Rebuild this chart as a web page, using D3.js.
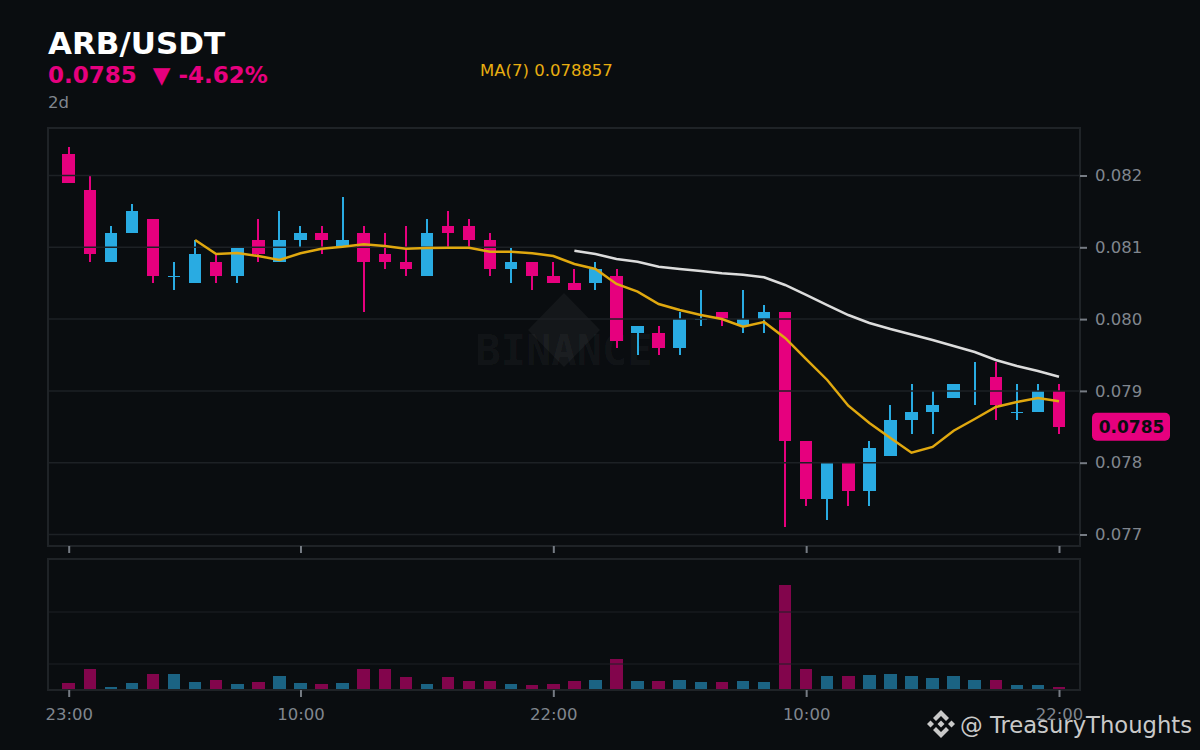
<!DOCTYPE html>
<html>
<head>
<meta charset="utf-8">
<script src="https://cdn.jsdelivr.net/npm/d3@7"></script>
<style>
  html, body { margin: 0; padding: 0; background: #0a0d10; }
  svg { display: block; font-family: "DejaVu Sans", sans-serif; }
</style>
</head>
<body>
<svg id="chart" width="1200" height="750"></svg>
<script>
const opens = [
  .0823, .0818, .0808, .0812, .0814, .0806, .0805, .0808, .0806, .0811, .0808, .0811,
  .0812, .0810, .0812, .0809, .0808, .0806, .0813, .0813, .0811, .0807, .0808, .0806,
  .0805, .0805, .0806, .0798, .0798, .0796, .0800, .0801, .0799, .0800, .0801, .0783,
  .0775, .0780, .0776, .0781, .0786, .0787, .0789, null, .0792, .0787, .0787, .0790
];
const highs = [
  .0824, .0820, .0813, .0816, .0814, .0808, .0811, .0809, .0810, .0814, .0815, .0813,
  .0813, .0817, .0813, .0812, .0813, .0814, .0815, .0814, .0812, .0810, .0808, .0808,
  .0807, .0808, .0807, .0799, .0799, .0801, .0804, .0801, .0804, .0802, .0801, .0783,
  .0780, .0780, .0783, .0788, .0791, .0790, .0791, .0794, .0794, .0791, .0791, .0791
];
const lows = [
  .0819, .0808, .0808, .0812, .0805, .0804, .0805, .0805, .0805, .0808, .0808, .0810,
  .0809, .0810, .0801, .0807, .0806, .0806, .0810, .0810, .0806, .0805, .0804, .0805,
  .0804, .0804, .0796, .0795, .0795, .0795, .0799, .0799, .0798, .0798, .0771, .0774,
  .0772, .0774, .0774, .0781, .0784, .0784, .0789, .0788, .0786, .0786, .0787, .0784
];
const closes = [
  .0819, .0809, .0812, .0815, .0806, .0806, .0809, .0806, .0810, .0809, .0811, .0812,
  .0811, .0811, .0808, .0808, .0807, .0812, .0812, .0811, .0807, .0808, .0806, .0805,
  .0804, .0807, .0797, .0799, .0796, .0800, .0800, .0800, .0800, .0801, .0783, .0775,
  .0780, .0776, .0782, .0786, .0787, .0788, .0791, null, .0788, .0787, .0790, .0785
];
const volumes = [
  6, 20, 2, 6, 15, 15, 7, 9, 5, 7, 13, 6,
  5, 6, 20, 20, 12, 5, 12, 8, 8, 5, 4, 5,
  8, 9, 30, 8, 8, 9, 7, 7, 8, 7, 104, 20,
  13, 13, 14, 15, 13, 11, 13, 9, 9, 4, 4, 2
];
// MA(7) starts at candle 6, MA(25) at candle 24
const ma7 = [
  .081102, .080907, .080921, .080879, .080823, .080916, .080981, .081008, .081042,
  .081018, .080981, .080990, .080994, .080994, .080939, .080939, .080916, .080879,
  .080767, .080698, .080489, .080382, .080210, .080127, .080057, .080001, .079894,
  .079960, .079737, .079444, .079152, .078794, .078553, .078344, .078139, .078219,
  .078446, .078609, .078776, .078845, .078901, .078857
];
const ma25 = [
  .080953, .080907, .080837, .080799, .080730, .080698, .080670, .080638, .080618,
  .080582, .080475, .080336, .080196, .080057, .079946, .079862, .079786, .079709,
  .079625, .079542, .079430, .079347, .079277, .079198
];
const priceTicks = [.082, .081, .080, .079, .078, .077];
const timeTickIdx = [0, 11, 23, 35, 47];
const timeTickLabels = ["23:00", "10:00", "22:00", "10:00", "22:00"];
const volumeGrid = [25, 77];

const bg = "#0a0d10", gridCol = "#1d2125", frameCol = "#1f2327", tickCol = "#767c84",
      labelCol = "#80868e", up = "#29abe2", down = "#e6007e", yellow = "#e0a80f", white = "#dcdcdc";

const svg = d3.select("#chart");
const left = 48, right = 1080, top1 = 128, bot1 = 546, top2 = 559, bot2 = 690;

const x = d3.scaleLinear().domain([0, 47]).range([68.7, 1059]);
const y = d3.scaleLinear().domain([.077, .082]).range([534.5, 175.5]);
const yVol = d3.scaleLinear().domain([0, 104]).range([689, 585]);
const bodyW = 12.5;

// watermark
const wm = svg.append("g").attr("class", "watermark").attr("fill", "#ffffff").attr("fill-opacity", 0.045);
wm.append("path")
  .attr("d", "M564,293 L600,330 L564,367 L528,330 Z");
wm.append("text")
  .attr("x", 564).attr("y", 365)
  .attr("text-anchor", "middle")
  .attr("font-family", "DejaVu Sans Mono")
  .attr("font-weight", "bold")
  .attr("font-size", 42)
  .text("BINANCE");

// candles
const candles = svg.append("g").attr("class", "candles").attr("shape-rendering", "crispEdges");
const colorOf = i => {
  if (opens[i] === null) return up;
  return closes[i] >= opens[i] ? up : down;
};
d3.range(opens.length).forEach(i => {
  candles.append("line")
    .attr("x1", x(i)).attr("x2", x(i))
    .attr("y1", y(highs[i])).attr("y2", y(lows[i]))
    .attr("stroke", colorOf(i)).attr("stroke-width", 2);
  if (opens[i] === null) return;
  const yt = y(Math.max(opens[i], closes[i]));
  const yb = y(Math.min(opens[i], closes[i]));
  candles.append("rect")
    .attr("x", x(i) - bodyW / 2).attr("width", bodyW)
    .attr("y", yt)
    .attr("height", Math.max(yb - yt, 1))
    .attr("fill", colorOf(i));
});

// volume bars
svg.append("g").attr("shape-rendering", "crispEdges").selectAll("rect")
  .data(volumes)
  .join("rect")
  .attr("x", (d, i) => x(i) - bodyW / 2)
  .attr("width", bodyW)
  .attr("y", d => yVol(d))
  .attr("height", d => yVol(0) - yVol(d))
  .attr("fill", (d, i) => colorOf(i))
  .attr("opacity", 0.55);

// grid sits on top of the candles in the original
svg.append("g").selectAll("line")
  .data(priceTicks)
  .join("line")
  .attr("x1", left).attr("x2", right)
  .attr("y1", d => y(d)).attr("y2", d => y(d))
  .attr("stroke", gridCol).attr("stroke-width", 1.5);
svg.append("g").selectAll("line")
  .data(volumeGrid)
  .join("line")
  .attr("x1", left).attr("x2", right)
  .attr("y1", d => yVol(d)).attr("y2", d => yVol(d))
  .attr("stroke", gridCol).attr("stroke-width", 1.2);

// moving averages
const line = d3.line().x(d => x(d[0])).y(d => y(d[1]));
svg.append("path")
  .attr("d", line(ma25.map((v, i) => [i + 24, v])))
  .attr("fill", "none").attr("stroke", white).attr("stroke-width", 2.5);
svg.append("path")
  .attr("d", line(ma7.map((v, i) => [i + 6, v])))
  .attr("fill", "none").attr("stroke", yellow).attr("stroke-width", 2.5);

// frames
[[top1, bot1], [top2, bot2]].forEach(([t, b]) => {
  svg.append("rect")
    .attr("x", left).attr("y", t)
    .attr("width", right - left).attr("height", b - t)
    .attr("fill", "none").attr("stroke", frameCol).attr("stroke-width", 2);
});

// axes
const yAxis = svg.append("g")
  .attr("transform", `translate(${right},0)`)
  .call(d3.axisRight(y).tickValues(priceTicks).tickSize(7).tickPadding(8).tickFormat(d3.format(".3f")));
const xAxisTop = svg.append("g")
  .attr("transform", `translate(0,${bot1})`)
  .call(d3.axisBottom(x).tickValues(timeTickIdx).tickSize(7).tickFormat(""));
const xAxisBot = svg.append("g")
  .attr("transform", `translate(0,${bot2})`)
  .call(d3.axisBottom(x).tickValues(timeTickIdx).tickSize(7).tickPadding(11)
    .tickFormat((d, i) => timeTickLabels[i]));
[yAxis, xAxisTop, xAxisBot].forEach(a => {
  a.select(".domain").remove();
  a.selectAll(".tick line").attr("stroke", tickCol).attr("stroke-width", 2);
  a.selectAll(".tick text")
    .attr("fill", labelCol)
    .attr("font-family", "DejaVu Sans")
    .attr("font-size", 16.5);
});

// last price badge
const last = closes[closes.length - 1];
svg.append("rect")
  .attr("x", 1092).attr("y", y(last) - 14)
  .attr("width", 78).attr("height", 28).attr("rx", 5)
  .attr("fill", down);
svg.append("text")
  .attr("x", 1131.5).attr("y", y(last) + 6)
  .attr("text-anchor", "middle")
  .attr("font-weight", "bold").attr("font-size", 17)
  .attr("fill", "#0a0d10")
  .text("0.0785");

// header
svg.append("text").attr("x", 48).attr("y", 54)
  .attr("font-weight", "bold").attr("font-size", 31).attr("fill", "#ffffff")
  .text("ARB/USDT");
svg.append("text").attr("x", 48).attr("y", 83)
  .attr("font-weight", "bold").attr("font-size", 23).attr("fill", down)
  .attr("xml:space", "preserve").style("white-space", "pre")
  .text("0.0785  ▼ -4.62%");
svg.append("text").attr("x", 48).attr("y", 108)
  .attr("font-size", 16.5).attr("fill", labelCol)
  .text("2d");
svg.append("text").attr("x", 480).attr("y", 76)
  .attr("font-size", 16.5).attr("fill", "#e8ae10")
  .text("MA(7) 0.078857");

// footer credit
const logo = svg.append("g").attr("transform", "translate(941,724)").attr("fill", "#c9c9c9");
logo.append("path").attr("d", "M0,-14 L8,-6 L5,-3 L0,-8 L-5,-3 L-8,-6 Z");
logo.append("path").attr("d", "M0,14 L8,6 L5,3 L0,8 L-5,3 L-8,6 Z");
logo.append("path").attr("d", "M0,-3.5 L3.5,0 L0,3.5 L-3.5,0 Z");
logo.append("path").attr("d", "M-10.5,-3.5 L-7,0 L-10.5,3.5 L-14,0 Z");
logo.append("path").attr("d", "M10.5,-3.5 L14,0 L10.5,3.5 L7,0 Z");
svg.append("text").attr("x", 960).attr("y", 733)
  .attr("font-size", 22.7).attr("fill", "#c9c9c9")
  .text("@ TreasuryThoughts");
</script>
</body>
</html>
